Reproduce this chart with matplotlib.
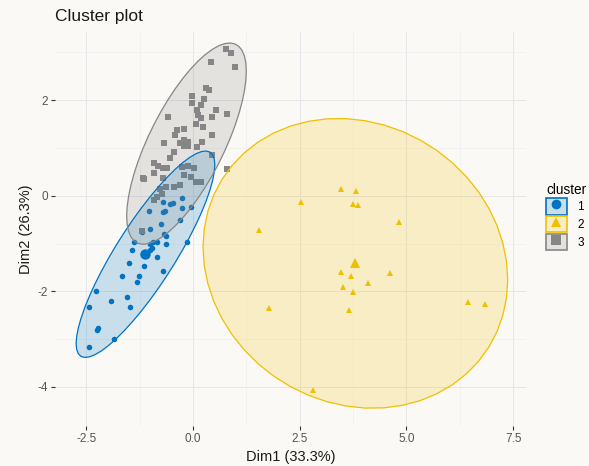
import numpy as np
import matplotlib
matplotlib.use("Agg")
import matplotlib.pyplot as plt
from matplotlib.patches import Rectangle, Polygon
from matplotlib.lines import Line2D
from matplotlib.ticker import MultipleLocator

plt.rcParams['font.family'] = ['Liberation Sans', 'DejaVu Sans']

# ---------------- data ----------------
cluster_labels = ["1", "2", "3"]
cluster_colors = ["#0073C2", "#EFC000", "#868686"]
cluster_markers = ["o", "^", "s"]

c1_x = [-0.704, -0.530, -0.481, -0.258, -0.045, -0.268, -1.034, -0.714, -0.656, -0.307,
        -0.762, -1.014, -1.208, -0.675, -0.636, -1.392, -0.937, -0.840, -0.646, -0.142,
        -1.431, -1.005, -0.956, -1.005, -1.169, -0.840, -1.509, -1.160, -1.664, -1.276,
        -1.315, -0.704, -2.274, -1.538, -1.925, -1.470, -2.449, -2.236, -2.255, -1.848,
        -2.449]
c1_y = [-0.13, -0.17, -0.15, -0.05, -0.24, -0.25, -0.32, -0.34, -0.33, -0.50,
        -0.59, -0.70, -0.76, -0.80, -0.84, -0.96, -0.96, -0.96, -1.00, -0.96,
        -1.14, -1.14, -1.10, -1.00, -1.22, -1.28, -1.40, -1.47, -1.68, -1.68,
        -1.80, -1.57, -1.99, -2.11, -2.20, -2.32, -2.32, -2.77, -2.82, -3.00,
        -3.17]

c2_x = [3.455, 3.823, 2.524, 3.755, 3.871, 4.831, 1.535, 3.474, 3.707, 4.608,
        4.094, 3.513, 3.745, 1.768, 3.648, 6.431, 6.838, 2.815]
c2_y = [0.14, 0.09, -0.13, -0.17, -0.19, -0.56, -0.72, -1.60, -1.67, -1.61,
        -1.83, -1.92, -2.01, -2.34, -2.39, -2.22, -2.27, -4.07]

c3_x = [0.765, 0.886, 0.430, 0.983, 0.294, 0.372, -0.035, 0.256, -0.016, 0.178,
        0.081, 0.527, 0.110, 0.178, 0.440, 0.789, -0.597, 0.062, 0.226, -0.384,
        -0.219, -0.413, 0.449, -0.219, -0.297, -0.132, -0.675, 0.217, 0.100, -0.452,
        0.449, -0.530, -0.927, -0.830, -0.704, -0.607, -0.258, -0.122, 0.033, -1.169,
        -0.908, -0.704, -0.219, -0.055, 0.062, 0.178, -0.452, -0.782, -0.646, -0.297,
        -0.840, -0.723, -0.927, 0.789, -1.198, -1.160]
c3_y = [3.06, 2.99, 2.80, 2.69, 2.26, 2.21, 2.09, 2.02, 1.93, 1.90,
        1.79, 1.79, 1.69, 1.62, 1.65, 1.71, 1.64, 1.51, 1.43, 1.37,
        1.39, 1.28, 1.27, 1.17, 1.11, 1.08, 1.10, 1.12, 1.01, 0.92,
        0.85, 0.78, 0.69, 0.62, 0.59, 0.57, 0.61, 0.62, 0.59, 0.38,
        0.47, 0.38, 0.43, 0.40, 0.29, 0.29, 0.19, 0.15, 0.19, 0.22,
        -0.02, 0.04, -0.10, 0.55, -0.74, 0.36]

title = "Cluster plot"
x_label = "Dim1 (33.3%)"
y_label = "Dim2 (26.3%)"
legend_title = "cluster"
x_ticks = [-2.5, 0.0, 2.5, 5.0, 7.5]
y_ticks = [-4, -2, 0, 2]
ellipse_level = 0.95

# ---------------- helpers ----------------
def norm_ellipse(x, y, level=0.95, npts=51):
    pts = np.column_stack([x, y])
    n = len(pts)
    center = pts.mean(axis=0)
    cov = np.cov(pts, rowvar=False, ddof=1)
    R = np.linalg.cholesky(cov).T
    d = n - 1
    fq = (d / 2.0) * ((1 - level) ** (-2.0 / d) - 1.0)   # qf(level, 2, d)
    radius = np.sqrt(2 * fq)
    t = np.linspace(0, 2 * np.pi, npts)
    circle = np.column_stack([np.cos(t), np.sin(t)])
    return center + radius * circle @ R

# ---------------- figure ----------------
bg = "#FBF9F6"
fig = plt.figure(figsize=(5.89, 4.66), dpi=100, facecolor=bg)
ax = fig.add_axes([55 / 589, 1 - 426 / 466, (526 - 55) / 589, (426 - 32) / 466])
ax.set_facecolor(bg)

clusters = [(c1_x, c1_y), (c2_x, c2_y), (c3_x, c3_y)]
msizes = [4.0, 4.6, 4.2]

for (cx, cy), col, mk, ms in zip(clusters, cluster_colors, cluster_markers, msizes):
    ax.plot(cx, cy, linestyle="none", marker=mk, color=col, markersize=ms,
            markeredgewidth=0, zorder=3)

for (cx, cy), col in zip(clusters, cluster_colors):
    e = norm_ellipse(cx, cy, ellipse_level)
    ax.add_patch(Polygon(e, closed=True, facecolor=col, alpha=0.2, edgecolor="none", zorder=4))
    ax.add_patch(Polygon(e, closed=True, facecolor="none", edgecolor=col, linewidth=0.9, zorder=5))

for (cx, cy), col, mk in zip(clusters, cluster_colors, cluster_markers):
    ax.plot([np.mean(cx)], [np.mean(cy)], linestyle="none", marker=mk, color=col,
            markersize=7.5, markeredgewidth=0, zorder=6)

ax.set_xlim(-3.235, 7.80)
ax.set_ylim(-4.818, 3.425)
ax.set_xticks(x_ticks)
ax.set_xticklabels([f"{v:.1f}" for v in x_ticks])
ax.set_yticks(y_ticks)
ax.set_yticklabels([str(v) for v in y_ticks])
ax.xaxis.set_minor_locator(MultipleLocator(1.25))
ax.yaxis.set_minor_locator(MultipleLocator(1.0))
ax.grid(True, which="major", color="#E6E6EA", linewidth=0.7, zorder=0)
ax.grid(True, which="minor", color="#EEEEF0", linewidth=0.4, zorder=0)
ax.set_axisbelow(True)
for s in ax.spines.values():
    s.set_visible(False)
ax.tick_params(which="major", length=3, width=0.8, color="#333333",
               labelsize=8.5, labelcolor="#555555", pad=2)
ax.tick_params(which="minor", length=0)

ax.set_xlabel(x_label, fontsize=10.5, color="#1A1A1A", labelpad=4)
ax.set_ylabel(y_label, fontsize=10.5, color="#1A1A1A", labelpad=3)

fig.text(55 / 589, 1 - 16 / 466, title, fontsize=12.5, color="#1A1A1A",
         ha="left", va="center")

# legend
handles = []
for col, mk in zip(cluster_colors, cluster_markers):
    box = Rectangle((0, 0), 1, 1, facecolor=matplotlib.colors.to_rgba(col, 0.2),
                    edgecolor=col, linewidth=1.2)
    m = Line2D([], [], linestyle="none", marker=mk, color=col, markersize=7,
               markeredgewidth=0)
    handles.append((box, m))
leg = ax.legend(handles, cluster_labels, title=legend_title, loc="upper left",
                bbox_to_anchor=(546 / 589, 1 - 183 / 466), bbox_transform=fig.transFigure,
                frameon=False, fontsize=8.5, title_fontsize=9.8,
                handlelength=1.75, handleheight=1.75, handletextpad=0.9,
                labelspacing=0.12, borderpad=0, borderaxespad=0, alignment="left")

fig.savefig("out.png", dpi=100, facecolor=bg)
